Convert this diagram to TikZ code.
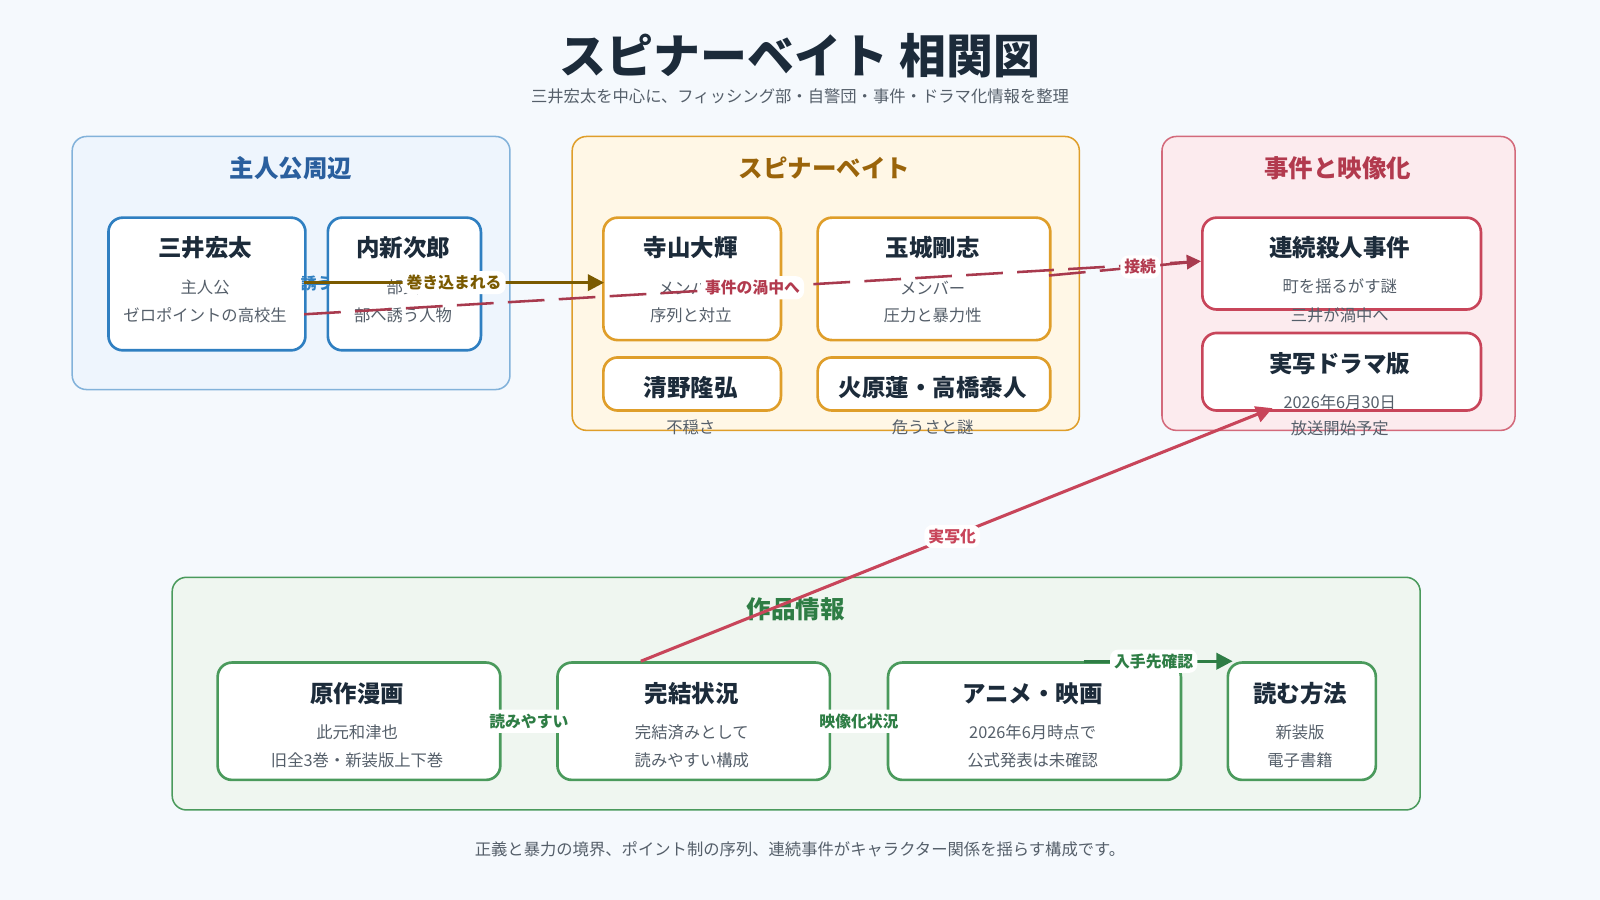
\documentclass[tikz,border=0pt]{standalone}
\usepackage{fontspec}
\setmainfont{Noto Sans CJK JP}
\usetikzlibrary{arrows.meta}
\definecolor{bg}{HTML}{F5F9FD}
\definecolor{cb}{HTML}{2F7FC1}\definecolor{gb}{HTML}{EEF5FD}\definecolor{tb}{HTML}{2A5F9E}
\definecolor{co}{HTML}{DF9E2A}\definecolor{go}{HTML}{FFF7E6}\definecolor{to}{HTML}{9A640A}
\definecolor{cr}{HTML}{C8455A}\definecolor{gr}{HTML}{FCEBEE}\definecolor{tr}{HTML}{B23A4E}
\definecolor{cg}{HTML}{4A9A5C}\definecolor{gg}{HTML}{EFF6F0}\definecolor{tg}{HTML}{2E7D45}
\definecolor{dark}{HTML}{1C2B3A}\definecolor{sub}{HTML}{555F6A}
\definecolor{brn}{HTML}{7A5A00}\definecolor{dred}{HTML}{A83A4E}
\tikzset{
 grp/.style={draw=#1,line width=1.5pt,rounded corners=14pt,anchor=north west,inner sep=0},
 box/.style={draw=#1,fill=white,line width=2.6pt,rounded corners=14pt,anchor=north west,inner sep=0},
 ttl/.style={font=\fontsize{23}{27}\selectfont\bfseries,text=dark},
 gt/.style={font=\fontsize{24}{28}\selectfont\bfseries},
 st/.style={font=\fontsize{16}{19}\selectfont,text=sub},
 lab/.style={fill=white,rounded corners=8pt,font=\fontsize{15.5}{18}\selectfont\bfseries,inner sep=4pt},
}
\begin{document}
\begin{tikzpicture}[x=1pt,y=-1pt]
\fill[bg] (0,0) rectangle (1568,882);
\useasboundingbox (0,0) rectangle (1568,882);
\node[font=\fontsize{46}{52}\selectfont\bfseries,text=dark] (title) at (784,55) {スピナーベイト 相関図};
\node[st] (subt) at (784,94) {三井宏太を中心に、フィッシング部・自警団・事件・ドラマ化情報を整理};
% groups
\node[grp=cb!60,fill=gb,minimum width=429pt,minimum height=248pt] (g1) at (70,133) {};
\node[gt,text=tb] at (285,165) {主人公周辺};
\node[grp=co,fill=go,minimum width=497pt,minimum height=288pt] (g2) at (560,133) {};
\node[gt,text=to] at (808,165) {スピナーベイト};
\node[grp=cr!80,fill=gr,minimum width=346pt,minimum height=288pt] (g3) at (1138,133) {};
\node[gt,text=tr] at (1311,165) {事件と映像化};
\node[grp=cg,fill=gg,minimum width=1223pt,minimum height=228pt] (g4) at (168,565) {};
\node[gt,text=tg] at (780,597) {作品情報};
% boxes
\node[box=cb,minimum width=193pt,minimum height=130pt] (mitsui) at (105,212) {};
\node[box=cb,minimum width=150pt,minimum height=130pt] (uchi) at (320,212) {};
\node[box=co,minimum width=174pt,minimum height=120pt] (tera) at (590,212) {};
\node[box=co,minimum width=228pt,minimum height=120pt] (tama) at (800,212) {};
\node[box=co,minimum width=174pt,minimum height=52pt] (seino) at (590,349) {};
\node[box=co,minimum width=228pt,minimum height=52pt] (hihara) at (800,349) {};
\node[box=cr,minimum width=273pt,minimum height=90pt] (renzoku) at (1177,212) {};
\node[box=cr,minimum width=273pt,minimum height=76pt] (drama) at (1177,325) {};
\node[box=cg,minimum width=277pt,minimum height=115pt] (gensaku) at (212,648) {};
\node[box=cg,minimum width=267pt,minimum height=115pt] (kanketsu) at (545,648) {};
\node[box=cg,minimum width=287pt,minimum height=115pt] (anime) at (869,648) {};
\node[box=cg,minimum width=145pt,minimum height=115pt] (yomu) at (1202,648) {};
% texts
\node[ttl] at (201,243) {三井宏太};\node[st] at (201,282) {主人公};\node[st] at (201,309) {ゼロポイントの高校生};
\node[ttl] at (395,243) {内新次郎};\node[st] at (395,282) {部員};\node[st] at (395,309) {部へ誘う人物};
\node[ttl] at (677,243) {寺山大輝};\node[st] at (677,282) {メンバー};\node[st] at (677,309) {序列と対立};
\node[ttl] at (914,243) {玉城剛志};\node[st] at (914,282) {メンバー};\node[st] at (914,309) {圧力と暴力性};
\node[ttl] at (677,380) {清野隆弘};\node[st] at (677,419) {不穏さ};
\node[ttl] at (914,380) {火原蓮・高橋泰人};\node[st] at (914,419) {危うさと謎};
\node[ttl] at (1313,243) {連続殺人事件};\node[st] at (1313,281) {町を揺るがす謎};\node[st] at (1313,309) {三井が渦中へ};
\node[ttl] at (1313,356) {実写ドラマ版};\node[st] at (1313,394) {2026年6月30日};\node[st] at (1313,420) {放送開始予定};
\node[ttl] at (350,680) {原作漫画};\node[st] at (350,718) {此元和津也};\node[st] at (350,745) {旧全3巻・新装版上下巻};
\node[ttl] at (678,680) {完結状況};\node[st] at (678,718) {完結済みとして};\node[st] at (678,745) {読みやすい構成};
\node[ttl] at (1012,680) {アニメ・映画};\node[st] at (1012,718) {2026年6月時点で};\node[st] at (1012,745) {公式発表は未確認};
\node[ttl] at (1274,680) {読む方法};\node[st] at (1274,718) {新装版};\node[st] at (1274,745) {電子書籍};
\node[st] at (784,832) {正義と暴力の境界、ポイント制の序列、連続事件がキャラクター関係を揺らす構成です。};
% connectors
\coordinate (a1) at (298,308);\coordinate (a2) at (1177,256);
\coordinate (b1) at (1028,270);
\draw[dred,line width=2.5pt,dash pattern=on 36pt off 14pt,-{Triangle[length=14pt,width=14pt]}] (a1) -- (a2) node[lab,text=tr,pos=.5] {事件の渦中へ};
\draw[dred,line width=2.5pt,dash pattern=on 36pt off 14pt] (b1) -- (a2) node[lab,text=tr,pos=.6] {接続};
\draw[cb,line width=2pt] (mitsui) -- (uchi) node[lab,text=cb,pos=.5,fill=none] {誘う};
\coordinate (m1) at (298,277);\coordinate (t1) at (592,277);
\draw[brn,line width=3pt,-{Triangle[length=16pt,width=16pt]}] (m1) -- (t1) node[lab,text=brn,pos=.5] {巻き込まれる};
\coordinate (c1) at (628,648);\coordinate (c2) at (1247,400);
\draw[cr,line width=3pt,-{Triangle[length=16pt,width=16pt]}] (c1) -- (c2) node[lab,text=cr,pos=.493] {実写化};
\draw[cg,line width=2pt] (gensaku) -- (kanketsu) node[lab,text=tg,pos=.5] {読みやすい};
\draw[cg,line width=2pt] (kanketsu) -- (anime) node[lab,text=tg,pos=.5] {映像化状況};
\coordinate (d1) at (1062,648);\coordinate (d2) at (1208,648);
\draw[tg,line width=3pt,-{Triangle[length=16pt,width=16pt]}] (d1) -- (d2) node[lab,text=tg,pos=.47] {入手先確認};
\end{tikzpicture}
\end{document}
